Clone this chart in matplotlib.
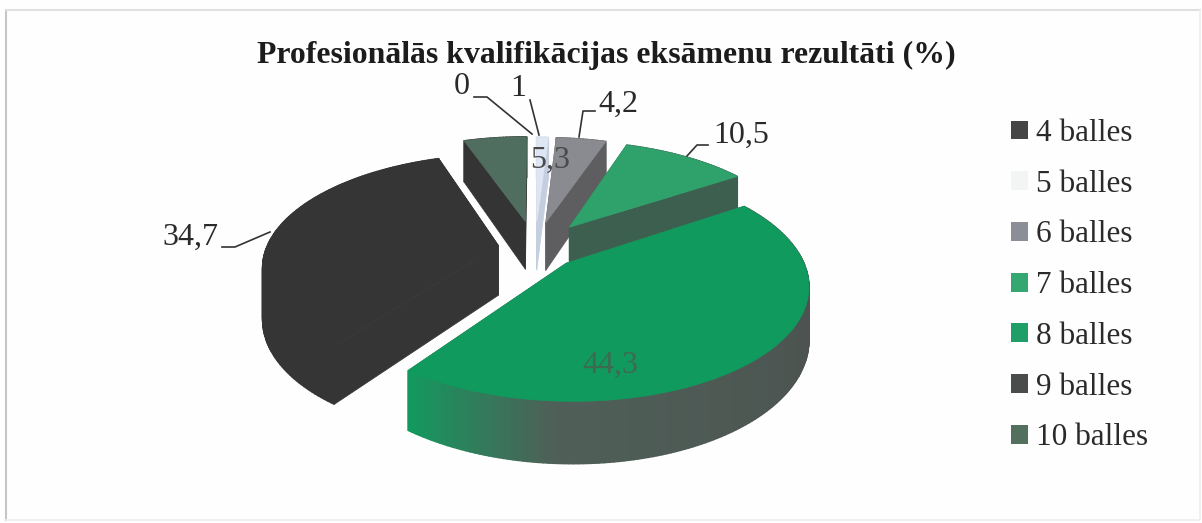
import numpy as np
import matplotlib
matplotlib.use("Agg")
import matplotlib.pyplot as plt
from matplotlib.patches import Polygon, Patch

plt.rcParams['font.family'] = ['Liberation Serif', 'DejaVu Serif']

title = "Profesionālās kvalifikācijas eksāmenu rezultāti (%)"
categories = ["4 balles", "5 balles", "6 balles", "7 balles", "8 balles", "9 balles", "10 balles"]
values = [0, 1, 4.2, 10.5, 44.3, 34.7, 5.3]
value_labels = ["0", "1", "4,2", "10,5", "44,3", "34,7", "5,3"]

top_colors = ["#3f3f3f", "#dde6f2", "#8a8b90", "#2fa26c", "#109a5e", "#353535", "#4f6e60"]
legend_colors = ["#454545", "#f3f5f5", "#8b8d97", "#35a871", "#1f9e68", "#4a4c4c", "#53705f"]
wall_colors = ["#333333", "#c4cede", "#5e5e60", "#3d5f50", "#4f5f58", "#353535", "#343434"]
explode = [0.21, 0.25, 0.25, 0.25, 0.19, 0.16, 0.26]

# label centre, leader line (pixels of the picture)
label_pos = {
    "0": (462, 87), "1": (518, 89), "4,2": (618, 104), "10,5": (741, 135),
    "34,7": (190, 237), "44,3": (610, 365), "5,3": (550, 160),
}
leaders = [
    [(474, 97), (487, 97), (532, 134)],
    [(530, 100), (539, 135)],
    [(595, 111), (583, 111), (579, 137)],
    [(708, 145), (697, 145), (687, 156)],
    [(222, 247), (235, 247), (270, 232)],
]

# projection of the tilted pie
cx, cy = 535, 248
R, Ry = 232, 108
persp = 0.175
depth = 50


def project(u, v, drop=0.0):
    f = 1 / (1 + persp * v)
    return cx + R * u * f, cy - Ry * v * f + drop * depth * f


def slice_points(a0, a1, e):
    mid = (a0 + a1) / 2
    ou, ov = e * np.sin(mid), e * np.cos(mid)
    t = np.linspace(a0, a1, max(int(np.degrees(a1 - a0)), 2) + 1)
    return ou, ov, ou + np.sin(t), ov + np.cos(t), t


def mix(c0, c1, w):
    c0 = np.array(matplotlib.colors.to_rgb(c0))
    c1 = np.array(matplotlib.colors.to_rgb(c1))
    return tuple(c0 * (1 - w) + c1 * w)


fig = plt.figure(figsize=(12.02, 5.23), dpi=100, facecolor="#fefefe")
ax = fig.add_axes([0, 0, 1, 1])
ax.set_xlim(0, 1202)
ax.set_ylim(523, 0)
ax.axis("off")

# scanned frame
ax.plot([6, 6], [10, 520], color="#c6c6c6", lw=1.5)
ax.plot([6, 1200], [10, 10], color="#e0e0e0", lw=1.5)
ax.plot([1200, 1200, 6], [10, 520, 520], color="#eeeeee", lw=1.2)

ax.text(606, 55, title, ha="center", va="center", fontsize=22.9, fontweight="bold", color="#1c1c1c")

edges = np.radians(np.cumsum([0] + values) / sum(values) * 360)
order = sorted(range(len(values)), key=lambda i: -np.cos((edges[i] + edges[i + 1]) / 2))

for i in order:
    if values[i] == 0:
        continue
    ou, ov, us, vs, t = slice_points(edges[i], edges[i + 1], explode[i])

    # radial walls
    for k in (0, -1):
        quad = [project(ou, ov), project(us[k], vs[k]), project(us[k], vs[k], 1), project(ou, ov, 1)]
        ax.add_patch(Polygon(quad, fc=wall_colors[i], ec=wall_colors[i], lw=0.5))

    # outer wall, strip by strip
    for j in range(len(t) - 1):
        quad = [project(us[j], vs[j]), project(us[j + 1], vs[j + 1]),
                project(us[j + 1], vs[j + 1], 1), project(us[j], vs[j], 1)]
        c = wall_colors[i]
        if categories[i] == "8 balles":
            w = j / (len(t) - 2)
            if w < 0.8:
                c = mix("#4a4a4a", "#4f5f58", w / 0.8)
            else:
                c = mix("#4f5f58", "#129a5e", (w - 0.8) / 0.2)
        ax.add_patch(Polygon(quad, fc=c, ec=c, lw=1))

    # top face
    top = [project(ou, ov)] + [project(a, b) for a, b in zip(us, vs)]
    ax.add_patch(Polygon(top, fc=top_colors[i], ec=top_colors[i], lw=0.5))

for line in leaders:
    ax.plot(*zip(*line), color="#333333", lw=1.2)

for lab in value_labels:
    x, y = label_pos[lab]
    col = "#3d6b52" if lab == "44,3" else "#2a2a2a"
    if lab == "5,3":
        col = "#4a4a4a"
    ax.text(x, y, lab, ha="center", va="center", fontsize=23, color=col)

handles = [Patch(fc=c, ec="none") for c in legend_colors]
ax.legend(handles, categories, loc="upper left", bbox_to_anchor=(1011 / 1202, 1 - 119 / 523),
          frameon=False, fontsize=22.5, labelcolor="#2a2a2a", handlelength=0.55, handleheight=0.55,
          handletextpad=0.25, labelspacing=0.695, borderpad=0, borderaxespad=0)

fig.savefig("out.png", dpi=100, facecolor=fig.get_facecolor())
